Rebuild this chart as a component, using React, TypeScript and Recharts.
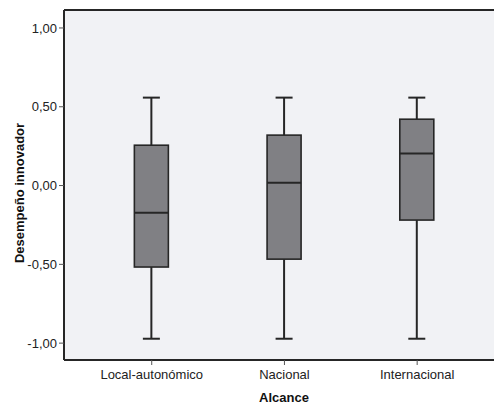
import React from 'react';
import { ComposedChart, Bar, XAxis, YAxis, CartesianGrid, ReferenceLine, Label } from 'recharts';

const categories = ['Local-autonómico', 'Nacional', 'Internacional'];
const mins = [-0.972, -0.972, -0.972];
const q1s = [-0.517, -0.467, -0.219];
const medians = [-0.173, 0.017, 0.203];
const q3s = [0.256, 0.32, 0.421];
const maxs = [0.558, 0.558, 0.558];
const yTicks = [-1, -0.5, 0, 0.5, 1];

const Y_MIN = -1.107;
const Y_MAX = 1.114;

const data = categories.map((c, i) => ({
  x: i + 1,
  name: c,
  min: mins[i],
  q1: q1s[i],
  median: medians[i],
  q3: q3s[i],
  max: maxs[i],
}));

const STROKE = '#262626';
const FONT = '"Liberation Sans", Arial, sans-serif';

const BoxShape = (props: any) => {
  const { x, y, width, height, payload } = props;
  const { min, q1, median, q3, max } = payload;
  const top = height >= 0 ? y : y + height;
  const h = Math.abs(height);
  const toY = (v: number) => top + ((max - v) / (max - min)) * h;
  const cx = x + width / 2;
  const cap = 8.5;
  return (
    <g>
      <line x1={cx} x2={cx} y1={toY(max)} y2={toY(q3)} stroke={STROKE} strokeWidth={2} />
      <line x1={cx} x2={cx} y1={toY(q1)} y2={toY(min)} stroke={STROKE} strokeWidth={2} />
      <line x1={cx - cap} x2={cx + cap} y1={toY(max)} y2={toY(max)} stroke={STROKE} strokeWidth={2} />
      <line x1={cx - cap} x2={cx + cap} y1={toY(min)} y2={toY(min)} stroke={STROKE} strokeWidth={2} />
      <rect x={x} y={toY(q3)} width={width} height={toY(q1) - toY(q3)} fill="#808084" stroke={STROKE} strokeWidth={1.6} />
      <line x1={x} x2={x + width} y1={toY(median)} y2={toY(median)} stroke={STROKE} strokeWidth={2} />
    </g>
  );
};

const fmt = (v: number) => v.toFixed(2).replace('.', ',');

export default function App() {
  return (
    <div style={{ position: 'absolute', left: 0, top: 0, width: 494, height: 404, background: '#fff' }}>
      <ComposedChart
        width={494}
        height={404}
        data={data}
        margin={{ top: 10, right: 0, left: 0, bottom: 0 }}
        style={{ fontFamily: FONT }}
      >
        <CartesianGrid fill="#f1f2f5" horizontal={false} vertical={false} />
        <XAxis
          dataKey="x"
          type="number"
          domain={[0.339, 3.579]}
          allowDataOverflow
          ticks={[1, 2, 3]}
          tickFormatter={(v: number) => categories[v - 1] ?? ''}
          height={44}
          axisLine={{ stroke: STROKE, strokeWidth: 2 }}
          tickLine={{ stroke: '#555' }}
          tickSize={5}
          tickMargin={5}
          tick={{ fill: '#222', fontSize: 13, fontFamily: FONT }}
        >
          <Label
            content={() => (
              <text x={284} y={402} textAnchor="middle" fontWeight="bold" fontSize={13} fill="#111" fontFamily={FONT}>
                Alcance
              </text>
            )}
          />
        </XAxis>
        <YAxis
          type="number"
          domain={[Y_MIN, Y_MAX]}
          allowDataOverflow
          ticks={yTicks}
          tickFormatter={fmt}
          width={64}
          axisLine={{ stroke: STROKE, strokeWidth: 2 }}
          tickLine={{ stroke: '#555' }}
          tickSize={5}
          tickMargin={2}
          tick={{ fill: '#222', fontSize: 13, fontFamily: FONT }}
        >
          <Label
            content={() => (
              <text
                x={19}
                y={193}
                transform="rotate(-90 19 193)"
                textAnchor="middle"
                dominantBaseline="central"
                fontWeight="bold"
                fontSize={13}
                fill="#111"
                fontFamily={FONT}
              >
                Desempeño innovador
              </text>
            )}
          />
        </YAxis>
        <ReferenceLine y={Y_MAX} stroke={STROKE} strokeWidth={2} ifOverflow="visible" />
        <Bar dataKey={(d: any) => [d.min, d.max]} barSize={34} shape={BoxShape} isAnimationActive={false} />
      </ComposedChart>
    </div>
  );
}
